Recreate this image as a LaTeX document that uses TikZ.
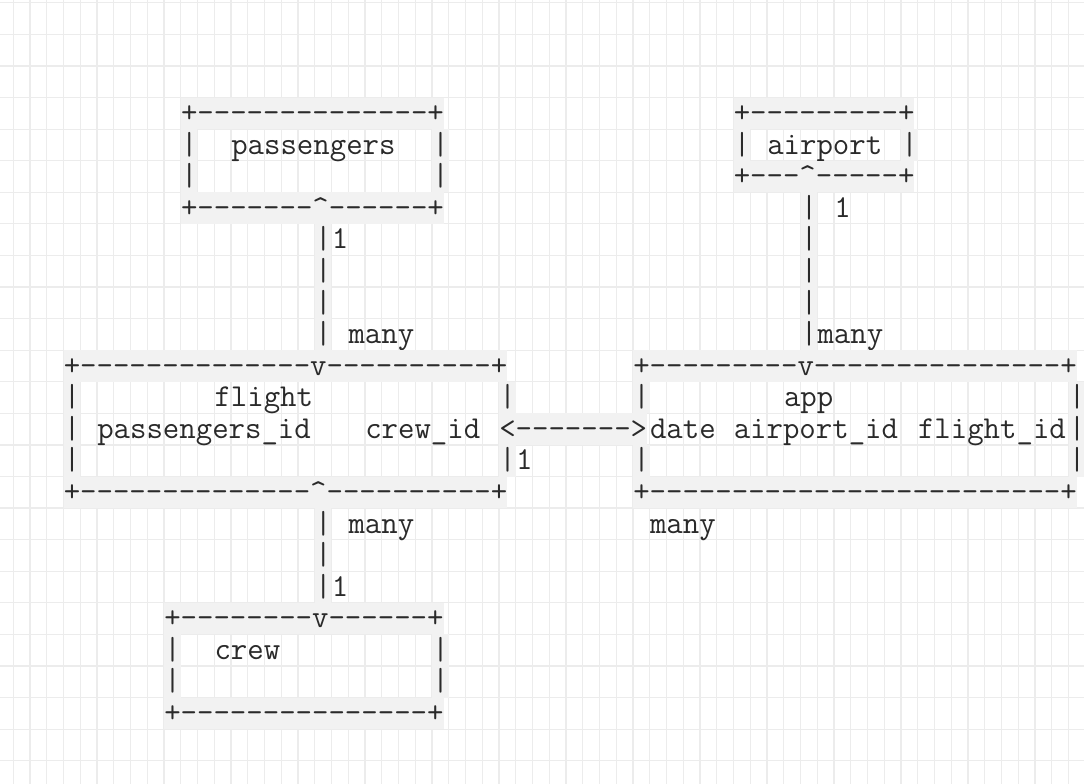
\documentclass[tikz,border=0pt]{standalone}
\usepackage{fontspec}
\definecolor{gridc}{HTML}{ECECEC}
\definecolor{cellc}{HTML}{F2F2F2}
\definecolor{ink}{HTML}{2A2A2A}
\newcommand\ascf{\ttfamily\fontsize{31.9}{32}\selectfont}
\newcommand\Cx[1]{13.3+16.75*(#1)}
\newcommand\Ry[1]{27.78+31.58*(#1)}
\newcommand\crt{\textasciicircum}
\tikzset{
  st/.style={anchor=base west, inner sep=0pt, text height=24.98pt, text depth=6.6pt, fill=cellc, font=\ascf, text=ink},
  lb/.style={anchor=base west, inner sep=0pt, font=\ascf, text=ink},
  gridline/.style={draw=gridc, line width=1.2pt}
}
\begin{document}
\begin{tikzpicture}[x=1pt,y=-1pt]
\useasboundingbox (0,0) rectangle (1084,784);
\fill[white] (0,0) rectangle (1084,784);
\foreach \k in {-1,...,64} \draw[gridline] ({13.3+16.75*\k},0) -- ({13.3+16.75*\k},784);
\foreach \j in {0,...,25} \draw[gridline] (0,{2.8+31.58*\j}) -- (1084,{2.8+31.58*\j});

% passengers box
\node[st] (pT) at ({\Cx{10}},{\Ry{3}}) {+--------------+};
\node[st] (pL1) at ({\Cx{10}},{\Ry{4}}) {|};
\node[lb] (pN) at ({\Cx{13}},{\Ry{4}}) {passengers};
\node[st] (pR1) at ({\Cx{25}},{\Ry{4}}) {|};
\node[st] (pL2) at ({\Cx{10}},{\Ry{5}}) {|};
\node[st] (pR2) at ({\Cx{25}},{\Ry{5}}) {|};
\node[st] (pB) at ({\Cx{10}},{\Ry{6}}) {+-------\crt------+};

% airport box
\node[st] (aT) at ({\Cx{43}},{\Ry{3}}) {+---------+};
\node[st] (aL) at ({\Cx{43}},{\Ry{4}}) {|};
\node[lb] (aN) at ({\Cx{45}},{\Ry{4}}) {airport};
\node[st] (aR) at ({\Cx{53}},{\Ry{4}}) {|};
\node[st] (aB) at ({\Cx{43}},{\Ry{5}}) {+---\crt-----+};

% passengers - flight connector
\node[st] (c1a) at ({\Cx{18}},{\Ry{7}}) {|};
\node[lb] (c1one) at ({\Cx{19}},{\Ry{7}}) {1};
\node[st] (c1b) at ({\Cx{18}},{\Ry{8}}) {|};
\node[st] (c1c) at ({\Cx{18}},{\Ry{9}}) {|};
\node[st] (c1d) at ({\Cx{18}},{\Ry{10}}) {|};
\node[lb] (c1many) at ({\Cx{20}},{\Ry{10}}) {many};

% airport - app connector
\node[st] (c2a) at ({\Cx{47}},{\Ry{6}}) {|};
\node[lb] (c2one) at ({\Cx{49}},{\Ry{6}}) {1};
\node[st] (c2b) at ({\Cx{47}},{\Ry{7}}) {|};
\node[st] (c2c) at ({\Cx{47}},{\Ry{8}}) {|};
\node[st] (c2d) at ({\Cx{47}},{\Ry{9}}) {|};
\node[st] (c2e) at ({\Cx{47}},{\Ry{10}}) {|};
\node[lb] (c2many) at ({\Cx{48}},{\Ry{10}}) {many};

% flight box
\node[st] (fT) at ({\Cx{3}},{\Ry{11}}) {+--------------v----------+};
\node[st] (fL1) at ({\Cx{3}},{\Ry{12}}) {|};
\node[lb] (fN) at ({\Cx{12}},{\Ry{12}}) {flight};
\node[st] (fR1) at ({\Cx{29}},{\Ry{12}}) {|};
\node[st] (fL2) at ({\Cx{3}},{\Ry{13}}) {|};
\node[lb] (fP) at ({\Cx{5}},{\Ry{13}}) {passengers\_id};
\node[lb] (fC) at ({\Cx{21}},{\Ry{13}}) {crew\_id};
\node[st] (fL3) at ({\Cx{3}},{\Ry{14}}) {|};
\node[st] (fR3) at ({\Cx{29}},{\Ry{14}}) {|};
\node[lb] (c3one) at ({\Cx{30}},{\Ry{14}}) {1};
\node[st] (fB) at ({\Cx{3}},{\Ry{15}}) {+--------------\crt----------+};

% flight - app connector
\node[st] (c3) at ({\Cx{29}},{\Ry{13}}) {<------->};

% app box
\node[st] (apT) at ({\Cx{37}},{\Ry{11}}) {+---------v---------------+};
\node[st] (apL1) at ({\Cx{37}},{\Ry{12}}) {|};
\node[lb] (apN) at ({\Cx{46}},{\Ry{12}}) {app};
\node[st] (apR1) at ({\Cx{63}},{\Ry{12}}) {|};
\node[lb] (apD) at ({\Cx{38}},{\Ry{13}}) {date};
\node[lb] (apA) at ({\Cx{43}},{\Ry{13}}) {airport\_id};
\node[lb] (apF) at ({\Cx{54}},{\Ry{13}}) {flight\_id};
\node[st] (apR2) at ({\Cx{63}},{\Ry{13}}) {|};
\node[st] (apL3) at ({\Cx{37}},{\Ry{14}}) {|};
\node[st] (apR3) at ({\Cx{63}},{\Ry{14}}) {|};
\node[st] (apB) at ({\Cx{37}},{\Ry{15}}) {+-------------------------+};
\node[lb] (apmany) at ({\Cx{38}},{\Ry{16}}) {many};

% flight - crew connector
\node[st] (c4a) at ({\Cx{18}},{\Ry{16}}) {|};
\node[lb] (c4many) at ({\Cx{20}},{\Ry{16}}) {many};
\node[st] (c4b) at ({\Cx{18}},{\Ry{17}}) {|};
\node[st] (c4c) at ({\Cx{18}},{\Ry{18}}) {|};
\node[lb] (c4one) at ({\Cx{19}},{\Ry{18}}) {1};

% crew box
\node[st] (cT) at ({\Cx{9}},{\Ry{19}}) {+--------v------+};
\node[st] (cL1) at ({\Cx{9}},{\Ry{20}}) {|};
\node[lb] (cN) at ({\Cx{12}},{\Ry{20}}) {crew};
\node[st] (cR1) at ({\Cx{25}},{\Ry{20}}) {|};
\node[st] (cL2) at ({\Cx{9}},{\Ry{21}}) {|};
\node[st] (cR2) at ({\Cx{25}},{\Ry{21}}) {|};
\node[st] (cB) at ({\Cx{9}},{\Ry{22}}) {+---------------+};
\end{tikzpicture}
\end{document}
